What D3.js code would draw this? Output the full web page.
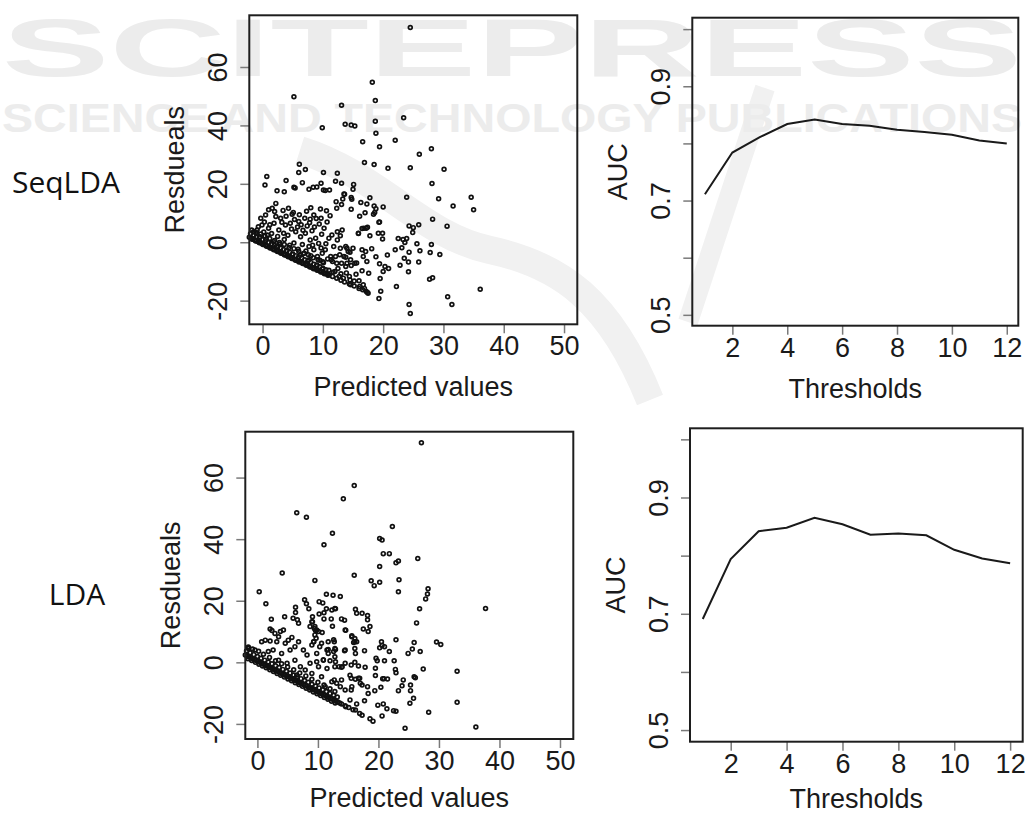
<!DOCTYPE html>
<html>
<head>
<meta charset="utf-8">
<script src="https://cdn.jsdelivr.net/npm/d3@7"></script>
<style>
body { margin: 0; background: #fff; }
svg { display: block; }
.tick line { stroke: #7a7a7a; stroke-width: 1.5px; }
.tick text, .title { font-family: "Liberation Sans", Arial, sans-serif; font-size: 27px; fill: #1a1a1a; }
.frame { fill: none; stroke: #1e1e1e; stroke-width: 2px; }
.dot { fill: none; stroke: #111; stroke-width: 1.7px; }
.auc { fill: none; stroke: #1a1a1a; stroke-width: 2px; }
.method { font-family: "Open Sans", sans-serif; font-size: 30px; fill: #111; }
.wm { fill: #ececec; font-family: "Liberation Sans", sans-serif; font-weight: bold; }
</style>
</head>
<body>
<script>
// residuals vs predicted values
const seqResiduals = [
    [24.5,73.5],[5.2,49.8],[18.2,54.8],[18.7,48.5],[13.1,46.9],[23.4,42.6],[9.9,39.2],[13.7,40.4],[14.7,40.1],[15.3,39.8],
    [18.7,41.4],[18.8,37.3],[16.6,34.4],[22.0,34.9],[19.4,32.7],[28.0,32.0],[26.0,30.1],[16.9,27.3],[18.5,26.6],[20.8,25.3],
    [24.5,25.5],[30.1,25.0],[6.1,26.7],[6.0,23.9],[7.1,24.9],[10.1,23.9],[12.4,23.6],[0.7,22.5],[0.4,19.6],[3.9,21.1],
    [2.4,17.6],[3.6,17.3],[5.2,18.8],[5.4,18.6],[6.6,20.4],[7.7,18.1],[8.4,18.8],[9.0,18.9],[9.7,20.2],[10.1,17.9],
    [10.4,17.7],[11.1,17.9],[12.1,20.9],[13.1,20.2],[13.5,16.5],[15.1,19.8],[15.0,18.1],[14.7,15.3],[14.8,14.7],[12.2,13.9],
    [13.1,12.9],[13.3,14.8],[14.7,11.3],[16.3,13.6],[17.3,13.1],[17.8,15.2],[18.8,11.5],[20.0,12.1],[16.1,8.9],[17.0,10.1],
    [18.4,9.6],[18.6,10.2],[19.3,6.8],[23.9,15.4],[28.1,20.1],[29.2,14.9],[31.6,12.4],[34.6,15.4],[35.0,11.1],[28.2,7.9],
    [25.9,6.0],[30.6,5.5],[24.3,5.6],[25.0,5.0],[24.9,3.3],[16.5,4.7],[17.2,4.8],[15.9,3.0],[19.2,3.1],[19.9,3.1],
    [19.9,1.1],[17.8,2.2],[22.5,1.3],[23.3,0.9],[23.9,1.3],[23.6,-0.1],[25.6,-0.5],[28.0,-0.8],[23.1,-1.9],[22.0,-2.6],
    [24.3,-3.4],[26.1,-2.9],[27.8,-3.5],[29.4,-4.2],[20.7,-4.4],[18.8,-5.0],[23.5,-5.5],[24.2,-6.8],[25.9,-6.8],[19.4,-7.4],
    [22.8,-7.9],[20.3,-8.3],[20.9,-9.0],[20.0,-10.0],[17.6,-10.6],[24.2,-10.1],[19.5,-12.4],[28.2,-12.2],[27.7,-12.7],[22.2,-15.2],
    [19.6,-16.8],[19.3,-19.3],[24.3,-21.3],[24.5,-24.4],[30.7,-18.7],[31.4,-21.3],[36.1,-16.1],
    [14.0,-2.1],[14.5,-3.4],[15.0,-2.1],[13.8,-5.1],[14.0,-7.2],[14.7,-8.0],[15.6,-7.1],[16.5,-2.6],[16.7,-4.9],[17.1,-3.2],
    [18.1,-2.2],[17.3,-6.6],[12.8,-4.3],[13.1,-7.2],[12.7,-11.7],[13.4,-12.3],[14.5,-12.9],[14.6,-14.6],[14.4,-11.7],[16.0,-13.2],
    [16.1,-15.2],[16.7,-14.6],[16.9,-15.8],[12.0,-10.0],[11.6,-6.6],[11.4,-6.0],[12.3,-7.2],[17.2,-16.9],[17.4,-17.2],[17.5,-17.5],
    [10.6,10.8],[11.2,9.1],[9.6,11.4],[9.7,8.2],[8.5,9.3],[7.9,7.9],[7.0,8.2],[6.0,7.1],[4.9,9.6],[4.6,6.5],
    [3.8,5.9],[3.0,8.2],[2.2,8.8],[2.0,10.5],[2.2,13.3],[1.6,11.6],[1.0,11.1],[0.5,9.3],[-0.3,8.2],[-0.1,5.9],
    [-0.9,4.2],[-1.5,3.6],[1.0,4.8],[1.9,6.5],[2.7,4.2],[3.5,3.1],[5.5,3.6],[6.3,1.9],[7.1,3.1],[7.9,0.8],
    [8.8,1.4],[9.3,-0.4],[7.7,-1.5],[8.5,-2.6],[6.9,-3.8],[9.1,-4.9],[9.9,-3.8],[10.4,-2.6],[11.0,1.4],[11.5,2.5],
    [12.4,3.6],[12.9,2.2],[13.2,4.2],[12.4,0.8],[11.8,-1.5],[11.3,-4.9],[12.1,-4.9],[12.9,-2.1],[13.8,-1.5],[13.5,-4.9],
    [14.2,-3.2],[14.6,-6.0],[15.3,-7.2],[13.8,-8.3],[15.9,3.1],[16.8,4.8],[17.4,5.1],[18.5,12.4],[19.4,6.9],[12.3,11.6],
    [13.6,16.4],[0.2,3.5],[0.8,2.5],[1.5,3.0],[1.2,6.0],[2.5,2.0],[3.2,6.8],[3.9,8.9],[4.2,2.4],[4.8,4.5],
    [5.3,7.8],[5.8,5.2],[6.4,6.0],[6.7,4.1],[7.4,5.6],[7.8,6.7],[8.2,3.9],[8.6,5.2],[9.4,6.2],[9.8,2.7],
    [10.2,4.8],[10.7,6.9],[3.4,10.9],[4.3,11.6],[5.1,10.2],[6.1,9.4],[7.3,10.6],[8.0,11.8],[8.9,8.1],[0.3,6.9],
    [-0.7,5.3],[-1.0,2.9],[-0.4,1.9],[0.6,1.0],[1.8,0.2],[2.9,-0.6],[3.6,0.9],[4.5,-1.0],[5.2,-0.3],[5.9,-2.4],
    [6.6,-0.8],[7.2,-3.0],[8.0,-4.6],[8.3,-1.0],[9.5,-6.2],[10.1,-7.0],[10.8,-5.7],[10.5,-0.5],[9.7,-2.0],[6.2,-4.5],
    [4.0,-2.8],[2.3,-1.5],[5.0,-4.2],[7.6,-6.1],[9.0,-7.8],[10.0,-9.2],[11.0,-9.6],[11.7,-10.3],[12.5,-9.0],[13.0,-10.8],
    [13.9,-10.5],[15.5,-11.0],[15.2,-13.3],[16.5,-9.8],
    [-2.2,1.7],[-1.9,1.4],[-1.6,1.1],[-1.3,0.8],[-1.0,0.5],[-0.7,0.2],[-0.4,-0.1],[-0.1,-0.4],[0.2,-0.7],[0.5,-1.0],
    [0.8,-1.3],[1.1,-1.6],[1.4,-1.9],[1.7,-2.2],[2.0,-2.5],[2.3,-2.8],[2.6,-3.1],[2.9,-3.4],[3.2,-3.7],[3.5,-4.0],
    [3.8,-4.3],[4.1,-4.6],[4.4,-4.9],[4.7,-5.2],[5.0,-5.5],[5.3,-5.8],[5.6,-6.1],[5.9,-6.4],[6.2,-6.6],[6.5,-6.9],
    [6.8,-7.2],[7.1,-7.5],[7.4,-7.8],[7.7,-8.1],[8.0,-8.4],[8.3,-8.7],[8.6,-9.0],[8.9,-9.2],[9.2,-9.5],[9.5,-9.8],
    [9.8,-10.1],[10.1,-10.4],[10.4,-10.7],[10.7,-10.9],[11.0,-11.2],[11.6,-11.7],[12.3,-12.3],[13.0,-13.0],[13.6,-13.6],[14.4,-14.3],
    [15.2,-15.0],[16.0,-15.8],[16.6,-16.3],
    [-2.0,2.9],[-1.5,2.4],[-1.0,1.9],[-0.5,1.5],[0.0,0.9],[0.5,0.5],[1.0,-0.1],[1.5,-0.5],[2.0,-1.0],[2.5,-1.6],
    [3.0,-2.0],[3.5,-2.5],[4.0,-3.1],[4.5,-3.4],[5.0,-4.0],[5.5,-4.6],[6.0,-5.0],[6.5,-5.4],[7.0,-6.0],[7.5,-6.5],
    [8.0,-6.9],[8.5,-7.5],[9.0,-8.0],[9.5,-8.4],[10.0,-8.9],[10.5,-9.4],
    [-1.8,4.2],[-1.1,3.4],[-0.3,2.8],[0.4,2.1],[1.2,1.3],[2.0,0.6],[2.8,-0.1],[3.6,-0.8],[4.4,-1.8],[5.2,-2.2],
    [6.0,-3.1],[6.8,-3.9],[7.6,-4.3],[8.4,-5.3],[9.2,-6.0],[10.0,-6.7],
    [-1.75,1.0],[-1.15,0.4],[-0.55,-0.2],[0.05,-0.8],[0.65,-1.4],[1.25,-2.0],[1.85,-2.6],[2.45,-3.2],[3.05,-3.8],[3.65,-4.4],
    [4.25,-5.0],[4.85,-5.6],[5.45,-6.2],[6.05,-6.8],[6.65,-7.3],[7.25,-7.9],[7.85,-8.5],[8.45,-9.1],[9.05,-9.6],[9.65,-10.2],
    [10.25,-10.8],[10.85,-11.3]
];

const ldaResiduals = [
    [27.1,71.3],[16.0,57.4],[14.2,53.1],[6.5,48.6],[8.1,47.1],[12.4,41.9],[22.3,44.1],[11.0,38.2],[20.2,40.2],[20.6,39.7],
    [20.8,35.3],[21.8,35.3],[22.9,32.3],[23.3,32.9],[26.5,33.7],[20.2,31.1],[4.1,29.0],[16.0,28.3],[9.5,26.6],[18.8,26.5],
    [19.3,24.9],[20.2,26.0],[23.4,26.8],[23.3,22.9],[0.3,22.9],[1.4,19.0],[11.4,22.1],[12.5,21.8],[13.7,21.4],[12.9,17.4],
    [28.2,23.9],[28.1,22.2],[27.8,20.6],[26.8,17.4],[26.3,12.8],[37.7,17.5],[7.8,20.3],[8.1,19.0],[8.5,17.4],[10.2,19.7],
    [10.8,19.3],[11.4,17.4],[11.0,16.1],[10.2,15.7],[11.0,14.1],[12.2,14.1],[12.4,11.7],[13.9,14.1],[14.6,10.4],[6.3,17.9],
    [6.3,16.2],[5.9,14.3],[6.6,13.8],[4.5,14.8],[2.3,14.0],[2.1,10.8],[16.2,17.2],[16.4,15.9],[17.3,15.9],[18.2,15.2],
    [18.2,13.8],[18.6,11.6],[18.3,10.0],[17.5,10.8],[15.6,8.6],[16.1,7.7],[16.4,6.7],[15.9,6.4],[16.2,2.9],[17.7,3.8],
    [14.4,3.8],[12.7,6.7],[11.7,4.2],[12.9,4.2],[11.7,2.9],[9.1,14.8],[9.1,13.2],[8.7,11.6],[9.4,11.0],[9.6,10.3],
    [10.7,9.7],[9.7,7.8],[9.3,6.7],[10.3,5.1],[9.8,2.9],[10.9,0.8],[12.0,0.5],[12.9,0.2],[13.5,-1.4],[13.9,-1.6],
    [15.5,-0.9],[16.1,0.0],[16.7,-1.2],[17.8,-1.6],[16.9,-5.2],[16.2,-5.5],[15.5,-5.2],[15.3,-4.2],[17.3,-7.4],[18.2,-7.9],
    [18.3,-10.1],[17.7,-12.5],[16.4,-13.5],[16.2,-15.5],[16.9,-16.6],[17.3,-17.2],[15.3,-12.2],[15.5,-9.0],[14.6,-14.4],[13.1,-6.8],
    [12.7,-5.7],[13.7,-7.9],[18.6,-18.3],[19.1,-19.1],[19.5,-1.9],[19.8,0.5],[19.6,1.3],[19.5,-4.3],[19.4,-9.2],[19.9,-13.9],
    [20.8,-13.5],[20.6,-17.4],[20.4,-8.1],[20.9,-5.3],[21.5,-5.4],[21.4,-15.1],[22.5,-15.7],[22.9,-15.9],[20.7,-5.3],[20.2,4.7],
    [20.5,6.7],[20.6,5.5],[21.0,5.1],[21.8,3.5],[21.0,0.5],[22.6,0.5],[22.9,7.3],[22.8,-2.3],[22.9,-3.4],[23.3,-9.2],
    [24.1,-5.7],[23.9,-7.6],[24.9,2.9],[25.6,4.3],[25.9,6.4],[25.9,-4.7],[26.1,-5.0],[25.3,-7.4],[25.3,-9.2],[25.8,-11.7],
    [25.2,-13.3],[26.9,3.5],[27.4,-2.2],[28.3,-16.2],[24.4,-21.4],[29.6,6.6],[30.3,5.8],[33.0,-2.9],[33.0,-13.0],[36.1,-21.0],
    [2.1,6.9],[0.7,6.7],[1.3,7.2],[2.4,10.3],[2.9,9.4],[3.5,8.3],[3.8,10.0],[4.3,10.5],[3.2,6.7],[4.6,6.2],
    [5.1,7.2],[5.7,8.1],[6.8,6.7],[6.2,5.1],[5.4,4.0],[4.0,2.9],[2.6,4.0],[1.8,3.5],[-0.4,4.0],[-1.5,4.5],
    [7.6,4.0],[8.2,2.4],[9.0,5.6],[9.3,6.7],[9.5,8.9],[9.8,10.5],[10.6,6.2],[11.7,6.7],[11.5,4.0],[12.6,3.5],
    [12.8,1.8],[10.9,0.7],[9.8,0.2],[8.7,-0.3],[10.1,-1.4],[11.5,-2.0],[12.8,-1.4],[14.0,-1.4],[14.5,-0.3],[7.9,-2.5],
    [7.1,-1.4],[6.2,0.7],[4.9,-0.3],[3.5,0.7],[6.5,-4.1],[9.0,-3.6],[10.6,-4.7],[12.3,-6.3],[11.2,-7.9],[12.8,-9.5],
    [13.9,-5.7],[14.5,-9.0],[15.6,-7.9],[16.7,-5.2],[17.0,-6.8],[6.8,12.7],[9.0,13.2],[9.5,11.6],[10.1,10.0],[12.6,7.3],
    [12.8,4.5],[14.5,4.0],[16.1,4.5],[12.3,17.0],[12.8,17.5],[14.4,13.7],[14.5,10.5],[15.6,8.3],[16.1,6.7],
    [-2.0,2.4],[-1.7,2.1],[-1.4,1.8],[-1.1,1.5],[-0.8,1.2],[-0.5,0.9],[-0.2,0.6],[0.1,0.3],[0.4,0.0],[0.7,-0.3],
    [1.0,-0.6],[1.3,-0.9],[1.6,-1.2],[1.9,-1.5],[2.2,-1.8],[2.5,-2.1],[2.8,-2.4],[3.1,-2.7],[3.4,-3.0],[3.7,-3.3],
    [4.0,-3.6],[4.3,-3.9],[4.6,-4.2],[4.9,-4.5],[5.2,-4.8],[5.5,-5.1],[5.8,-5.4],[6.1,-5.7],[6.4,-6.0],[6.7,-6.3],
    [7.0,-6.6],[7.3,-6.9],[7.6,-7.2],[7.9,-7.5],[8.2,-7.8],[8.5,-8.1],[8.8,-8.4],[9.1,-8.7],[9.4,-9.0],[9.7,-9.3],
    [10.0,-9.6],[10.3,-9.9],[10.6,-10.2],[10.9,-10.5],[11.2,-10.8],[11.5,-11.1],[11.8,-11.4],[12.1,-11.7],[12.4,-12.0],[12.7,-12.3],
    [13.0,-12.6],[13.3,-12.9],[13.6,-13.2],[13.9,-13.5],[14.5,-14.1],[15.1,-14.7],[15.8,-15.4],
    [-1.8,3.7],[-1.2,3.1],[-0.6,2.5],[0.0,1.9],[0.6,1.3],[1.2,0.7],[1.8,0.1],[2.4,-0.5],[3.0,-1.1],[3.6,-1.7],
    [4.2,-2.3],[4.8,-2.9],[5.4,-3.5],[6.0,-4.1],[6.6,-4.7],[7.2,-5.3],[7.8,-5.9],[8.4,-6.5],[9.0,-7.1],[9.6,-7.7],
    [10.2,-8.3],[10.8,-8.9],[11.4,-9.5],[12.0,-10.1],[12.6,-10.7],[13.2,-11.3],
    [-1.5,5.0],[-0.8,4.3],[0.2,3.6],[1.0,2.6],[2.0,1.6],[3.0,0.5],[4.0,-0.5],[5.0,-1.5],[6.0,-2.4],[7.0,-3.5],
    [8.0,-4.4],[9.0,-5.5],[10.0,-6.5],[11.0,-7.4],[12.0,-8.6],
    [-1.55,1.2],[-0.95,0.6],[-0.35,0.0],[0.25,-0.6],[0.85,-1.2],[1.45,-1.8],[2.05,-2.4],[2.65,-3.0],[3.25,-3.6],[3.85,-4.2],
    [4.45,-4.8],[5.05,-5.4],[5.65,-6.0],[6.25,-6.6],[6.85,-7.2],[7.45,-7.8],[8.05,-8.4],[8.65,-9.0],[9.25,-9.6],[9.85,-10.2],
    [10.45,-10.8],[11.05,-11.4],[11.65,-12.0],[12.25,-12.6],[12.85,-13.2]
];

const thresholds = [1, 2, 3, 4, 5, 6, 7, 8, 9, 10, 11, 12];
const aucSeqLDA = [0.711, 0.784, 0.811, 0.834, 0.842, 0.834, 0.831, 0.824, 0.820, 0.815, 0.805, 0.800];
const aucLDA = [0.691, 0.794, 0.842, 0.848, 0.865, 0.854, 0.836, 0.838, 0.835, 0.810, 0.795, 0.787];

const residXTicks = [0, 10, 20, 30, 40, 50];
const residYTicks = [-20, 0, 20, 40, 60];
const aucXTicks = [2, 4, 6, 8, 10, 12];
const aucYTicks = [0.5, 0.6, 0.7, 0.8, 0.9, 1.0];
const aucYLabels = [0.5, 0.7, 0.9];

const svg = d3.select('body').append('svg')
    .attr('width', 1025)
    .attr('height', 816);

// faint publisher watermark behind the top row
const wm = svg.append('g');
wm.append('path')
    .attr('d', 'M300,150 C380,175 420,235 490,250 C560,265 610,300 650,400')
    .attr('fill', 'none').attr('stroke', '#f1f1f1').attr('stroke-width', 28);
wm.append('path')
    .attr('d', 'M765,88 L688,322')
    .attr('fill', 'none').attr('stroke', '#f1f1f1').attr('stroke-width', 20);
wm.append('text').attr('class', 'wm')
    .attr('x', 2).attr('y', 76)
    .attr('font-size', 82)
    .attr('textLength', 1020).attr('lengthAdjust', 'spacingAndGlyphs')
    .text('SCITEPRESS');
wm.append('text').attr('class', 'wm')
    .attr('x', 2).attr('y', 132)
    .attr('font-size', 40)
    .attr('textLength', 1020).attr('lengthAdjust', 'spacingAndGlyphs')
    .text('SCIENCE AND TECHNOLOGY PUBLICATIONS');

function frame(box, xDomain, yDomain, opts) {
    const w = box[2] - box[0];
    const h = box[3] - box[1];
    const g = svg.append('g').attr('transform', `translate(${box[0]},${box[1]})`);
    const x = d3.scaleLinear().domain(xDomain).range([0, w]);
    const y = d3.scaleLinear().domain(yDomain).range([h, 0]);

    const gx = g.append('g')
        .attr('transform', `translate(0,${h})`)
        .call(d3.axisBottom(x).tickValues(opts.xTicks).tickSize(9).tickFormat(d => String(d)));
    gx.select('.domain').remove();
    gx.selectAll('text').attr('y', 31).attr('dy', 0);

    const gy = g.append('g')
        .call(d3.axisLeft(y).tickValues(opts.yTicks).tickSize(9).tickFormat(opts.yFormat));
    gy.select('.domain').remove();
    gy.selectAll('text')
        .attr('transform', 'rotate(-90)')
        .attr('x', 0).attr('y', -22).attr('dy', 0)
        .attr('text-anchor', 'middle');

    g.append('text').attr('class', 'title')
        .attr('x', w / 2).attr('y', h + opts.titleGap)
        .attr('text-anchor', 'middle')
        .text(opts.xTitle);
    g.append('text').attr('class', 'title')
        .attr('transform', `translate(-65,${h / 2}) rotate(-90)`)
        .attr('text-anchor', 'middle')
        .text(opts.yTitle);

    return {g, x, y, w, h};
}

function scatter(box, xDomain, yDomain, points, titleGap) {
    const p = frame(box, xDomain, yDomain, {
        xTicks: residXTicks, yTicks: residYTicks, yFormat: d => String(d),
        xTitle: 'Predicted values', yTitle: 'Resdueals', titleGap
    });
    p.g.append('g').selectAll('circle').data(points).join('circle')
        .attr('class', 'dot')
        .attr('cx', d => p.x(d[0]))
        .attr('cy', d => p.y(d[1]))
        .attr('r', 1.9);
    p.g.append('rect').attr('class', 'frame').attr('width', p.w).attr('height', p.h);
}

function aucPlot(box, xDomain, yDomain, values, titleGap) {
    const p = frame(box, xDomain, yDomain, {
        xTicks: aucXTicks, yTicks: aucYTicks,
        yFormat: d => aucYLabels.includes(d) ? d.toFixed(1) : '',
        xTitle: 'Thresholds', yTitle: 'AUC', titleGap
    });
    const line = d3.line()
        .x((d, i) => p.x(thresholds[i]))
        .y(d => p.y(d));
    p.g.append('path').attr('class', 'auc').attr('d', line(values));
    p.g.append('rect').attr('class', 'frame').attr('width', p.w).attr('height', p.h);
}

scatter([249.3, 15.3, 577.3, 324.3], [-2.2, 52.2], [-28.1, 77.7], seqResiduals, 72);
aucPlot([692.3, 17.7, 1018.3, 325.7], [0.54, 12.42], [0.481, 1.02], aucSeqLDA, 72);
scatter([245.3, 431.7, 573.3, 739], [-2, 52.2], [-24.9, 74.9], ldaResiduals, 68);
aucPlot([690, 428.3, 1022.7, 741.7], [0.543, 12.45], [0.48, 1.019], aucLDA, 66);

svg.append('text').attr('class', 'method')
    .attr('x', 66).attr('y', 193).attr('text-anchor', 'middle')
    .text('SeqLDA');
svg.append('text').attr('class', 'method')
    .attr('x', 77).attr('y', 605).attr('text-anchor', 'middle')
    .text('LDA');
</script>
</body>
</html>
